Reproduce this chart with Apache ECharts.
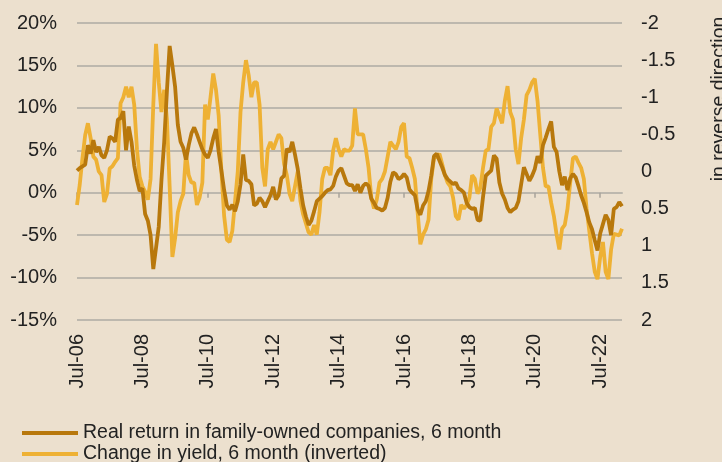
<!DOCTYPE html>
<html>
<head>
<meta charset="utf-8">
<script src="https://cdn.jsdelivr.net/npm/echarts@6/dist/echarts.min.js"></script>
<style>
  html, body { margin: 0; padding: 0; background: #ECE0CE; }
  #chart { width: 722px; height: 462px; }
</style>
</head>
<body>
<div id="chart"></div>
<script>
// months Jul-06 .. Mar-23
const monthNames = ["Jan", "Feb", "Mar", "Apr", "May", "Jun", "Jul", "Aug", "Sep", "Oct", "Nov", "Dec"];
const months = [];
for (let k = 0; k < 201; k++) {
  const m = (6 + k) % 12;
  const y = 2006 + Math.floor((6 + k) / 12);
  months.push(monthNames[m] + "-" + String(y).slice(2));
}

const seriesNames = ["Real return in family-owned companies, 6 month", "Change in yield, 6 month (inverted)"];

// real return, family-owned companies, 6 month (%, left axis)
const realReturn = [
  2.6, 2.9, 3.1, 3.3, 5.6, 4.6, 6.2, 4.8, 5.4, 4.4,
  4.1, 5.0, 6.6, 6.4, 6.0, 8.6, 8.8, 9.6, 5.0, 7.8,
  6.0, 3.2, 1.5, 0.2, 0.5, -2.5, -3.3, -5.0, -9.0, -6.5,
  -4.0, 1.5, 6.0, 12.0, 17.3, 15.0, 12.5, 8.0, 6.0, 5.3,
  3.9, 5.6, 7.0, 7.7, 6.9, 6.0, 5.1, 4.5, 4.1, 5.0,
  6.4, 7.5, 4.8, 2.6, 0.3, -1.5, -2.0, -1.4, -2.2, -1.0,
  1.0, 4.5, 1.5, 1.4, 1.0, -1.5, -1.3, -0.6, -1.0, -1.7,
  -1.0, -0.3, 0.7, -0.8, -0.3, 1.7, 2.0, 5.2, 4.8, 6.0,
  4.5, 2.8, 0.5, -1.5, -2.8, -3.8, -3.3, -2.2, -1.0, -0.7,
  -0.4, 0.0, 0.3, 0.4, 0.8, 1.9, 2.6, 2.9, 2.0, 1.1,
  0.9, 0.9, 0.2, 1.0, 0.0, 0.8, 1.1, 0.8, -0.7, -1.2,
  -1.8, -1.9, -2.1, -1.8, -0.6, 1.3, 2.4, 2.2, 1.6, 1.8,
  2.2, 1.8, 0.4, 0.0, -0.3, -2.0, -2.6, -1.5, -1.0, 0.2,
  2.0, 4.3, 4.6, 3.8, 3.0, 2.1, 1.6, 1.3, 1.0, 1.2,
  0.5, 0.3, 0.0, -1.2, -1.7, -1.9, -1.8, -3.2, -3.3, -0.5,
  2.0, 2.3, 2.6, 4.4, 4.0, 1.2, -0.1, -0.8, -1.8, -2.3,
  -2.0, -1.8, -1.0, 1.0, 3.0, 2.2, 1.4, 2.0, 2.8, 4.3,
  3.5, 5.6, 6.5, 7.5, 8.4, 5.4, 4.8, 2.5, 0.9, 1.9,
  0.3, 1.7, 2.2, 1.8, 0.8, -0.3, -1.2, -2.3, -3.5, -4.3,
  -5.6, -6.8, -4.8, -3.7, -2.6, -3.2, -5.0, -1.9, -1.7, -1.1,
  -1.6
];

// change in yield, 6 month (right axis, inverted)
const yieldChange = [
  0.45, 0.18, -0.18, -0.49, -0.65, -0.45, -0.2, -0.16, 0.0, 0.05,
  0.41, 0.3, -0.04, -0.07, -0.13, -0.18, -0.92, -1.0, -1.14, -1.0,
  -1.14, -0.9, -0.3, 0.07, 0.2, 0.27, 0.38, 0.1, -0.9, -1.72,
  -1.2, -0.8, -1.1, -0.7, 0.2, 1.15, 0.9, 0.55, 0.4, 0.3,
  -0.25, 0.05, 0.15, 0.15, 0.45, 0.35, 0.15, -0.9, -0.7, -1.0,
  -1.32, -1.1, -0.75, 0.0, 0.6, 0.92, 0.95, 0.8, 0.4, 0.0,
  -0.8, -1.2, -1.5, -1.3, -1.0, -1.2, -1.2, -0.9, -0.05, 0.2,
  -0.3, -0.4, -0.3, -0.4, -0.5, -0.45, -0.1, 0.05, 0.3, 0.4,
  0.2, 0.0, 0.4, 0.58, 0.7, 0.82, 0.85, 0.72, 0.85, 0.55,
  0.1, -0.05, -0.05, 0.05, -0.28, -0.45, -0.3, -0.2, -0.3, -0.28,
  -0.28, -0.35, -0.85, -0.5, -0.5, -0.5, -0.3, -0.05, 0.35, 0.5,
  0.38, 0.15, 0.1, 0.0, -0.2, -0.4, -0.35, -0.3, -0.4, -0.6,
  -0.65, -0.2, -0.18, -0.05, 0.1, 0.55, 0.98, 0.85, 0.78, 0.65,
  0.1, -0.18, -0.2, -0.24, -0.1, 0.05, 0.15, 0.2, 0.35, 0.6,
  0.65, 0.45, 0.5, 0.45, 0.35, 0.05, 0.1, 0.3, 0.22, -0.05,
  -0.28, -0.3, -0.6, -0.65, -0.85, -0.75, -0.65, -0.95, -1.15, -0.8,
  -0.7, -0.3, -0.1, -0.45, -0.7, -1.03, -1.1, -1.2, -1.25, -0.95,
  -0.5, -0.05, 0.2, 0.2, 0.42, 0.6, 0.85, 1.05, 0.77, 0.72,
  0.5, 0.15, -0.18, -0.2, -0.12, -0.05, 0.1, 0.5, 0.8, 1.1,
  1.35, 1.45, 1.15, 0.95, 1.35, 1.45, 1.05, 0.84, 0.85, 0.86,
  0.77
];

const font = "Liberation Sans";
const textColor = "#222";
const gridColor = "#BDB8AE";

// one legend per row, stacked
const legendBase = {
  left: 22,
  padding: 0,
  icon: "rect",
  itemWidth: 56,
  itemHeight: 4,
  textStyle: { fontSize: 19.5, color: textColor, fontFamily: font }
};

const chart = echarts.init(document.getElementById("chart"));
chart.setOption({
  backgroundColor: "#ECE0CE",
  animation: false,
  textStyle: { fontFamily: font, color: textColor },
  grid: { left: 77, right: 100, top: 23, bottom: 142 },
  legend: [
    Object.assign({}, legendBase, { top: 423, data: [seriesNames[0]] }),
    Object.assign({}, legendBase, { top: 444, data: [seriesNames[1]] })
  ],
  xAxis: [
    {
      type: "category",
      data: months,
      boundaryGap: false,
      position: "bottom",
      axisLine: { show: false, onZero: false },
      axisTick: { show: false },
      axisLabel: { rotate: 90, interval: 23, fontSize: 20, margin: 14, color: textColor, fontFamily: font }
    },
    {
      // ticks sitting on the 0% line
      type: "category",
      data: months,
      boundaryGap: false,
      position: "bottom",
      axisLine: { show: true, onZero: true, lineStyle: { color: gridColor, width: 2 } },
      axisTick: { show: true, interval: 23, length: 5, lineStyle: { color: "#A8A39A", width: 1.5 } },
      axisLabel: { show: false }
    }
  ],
  yAxis: [
    {
      type: "value",
      min: -15,
      max: 20,
      interval: 5,
      axisLine: { show: false },
      axisTick: { show: false },
      axisLabel: { formatter: "{value}%", fontSize: 20, margin: 20, color: textColor, fontFamily: font },
      splitLine: { lineStyle: { color: gridColor, width: 2 } }
    },
    {
      type: "value",
      position: "right",
      min: -2,
      max: 2,
      interval: 0.5,
      inverse: true,
      axisLine: { show: false },
      axisTick: { show: false },
      axisLabel: { fontSize: 20, margin: 19, color: textColor, fontFamily: font },
      splitLine: { show: false }
    }
  ],
  graphic: [
    {
      type: "text",
      x: 720,
      y: 99,
      rotation: Math.PI / 2,
      style: {
        text: "in reverse direction",
        font: "19.5px " + font,
        fill: textColor,
        textAlign: "center",
        textVerticalAlign: "middle"
      }
    }
  ],
  series: [
    {
      name: seriesNames[0],
      type: "line",
      data: realReturn,
      xAxisIndex: 0,
      yAxisIndex: 0,
      showSymbol: false,
      z: 4,
      color: "#B8780C",
      lineStyle: { color: "#B8780C", width: 3.8 }
    },
    {
      name: seriesNames[1],
      type: "line",
      data: yieldChange,
      xAxisIndex: 0,
      yAxisIndex: 1,
      showSymbol: false,
      z: 3,
      color: "#EEB134",
      lineStyle: { color: "#EEB134", width: 3.8 }
    }
  ]
});
</script>
</body>
</html>
